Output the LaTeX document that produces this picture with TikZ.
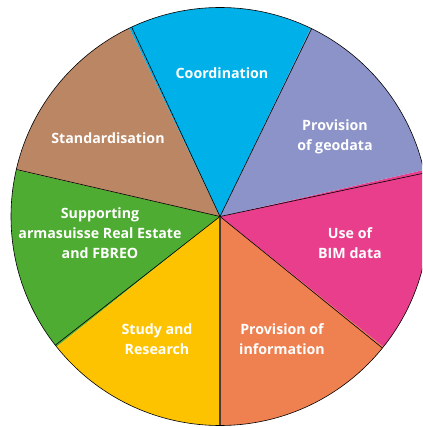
\documentclass[tikz,border=0pt]{standalone}
\usepackage{fontspec}
\setmainfont{Open Sans}
\definecolor{coordcol}{HTML}{00B0E8}
\definecolor{geocol}{HTML}{8C93C8}
\definecolor{bimcol}{HTML}{E83E8C}
\definecolor{infocol}{HTML}{EF8050}
\definecolor{studycol}{HTML}{FDC300}
\definecolor{supportcol}{HTML}{4EAC32}
\definecolor{standcol}{HTML}{BA8664}
\definecolor{spokecol}{HTML}{4B3A2F}
\tikzset{
  label/.style={text=white,align=center,inner sep=0pt,
    font=\fontsize{14.2}{20}\selectfont\bfseries},
}
\begin{document}
\begin{tikzpicture}[x=1pt,y=1pt]
 \useasboundingbox (0,0) rectangle (422,-427);
 \clip (0,0) rectangle (422,-427);
 \node[circle,minimum size=418pt,inner sep=0pt,outer sep=0pt,name=pie] at (220,-216.5) {};
 \foreach \deg/\col in {270/infocol,321.43/bimcol,372.86/geocol,424.29/coordcol,
                        475.71/standcol,527.14/supportcol,578.57/studycol} {
    \fill[\col] (pie.center) -- ++(\deg:209) arc[start angle=\deg,delta angle=51.43,radius=209pt] -- cycle;
 }
 \foreach \deg in {321.43,12.86,64.29,115.71,167.14,218.57} {
    \draw[line width=0.6pt] (pie.center) -- (pie.\deg);
 }
  \draw[line width=1.4pt,spokecol] (pie.center) -- (pie.270); % the one downwards
  \draw[line width=0.6pt] (pie.center) circle[radius=209pt];
 \node[label,name=coord] at (222,-73) {Coordination};
 \node[label,name=geodata] at (335,-137) {Provision\\of geodata};
 \node[label,name=bim] at (350,-243) {Use of\\BIM data};
 \node[label,name=info] at (282,-339) {Provision of\\information};
 \node[label,name=study] at (157,-339) {Study and\\Research};
 \node[label,name=support] at (100,-233) {Supporting\\armasuisse Real Estate\\and FBREO};
 \node[label,name=standard] at (108,-138) {Standardisation};
\end{tikzpicture}
\end{document}
